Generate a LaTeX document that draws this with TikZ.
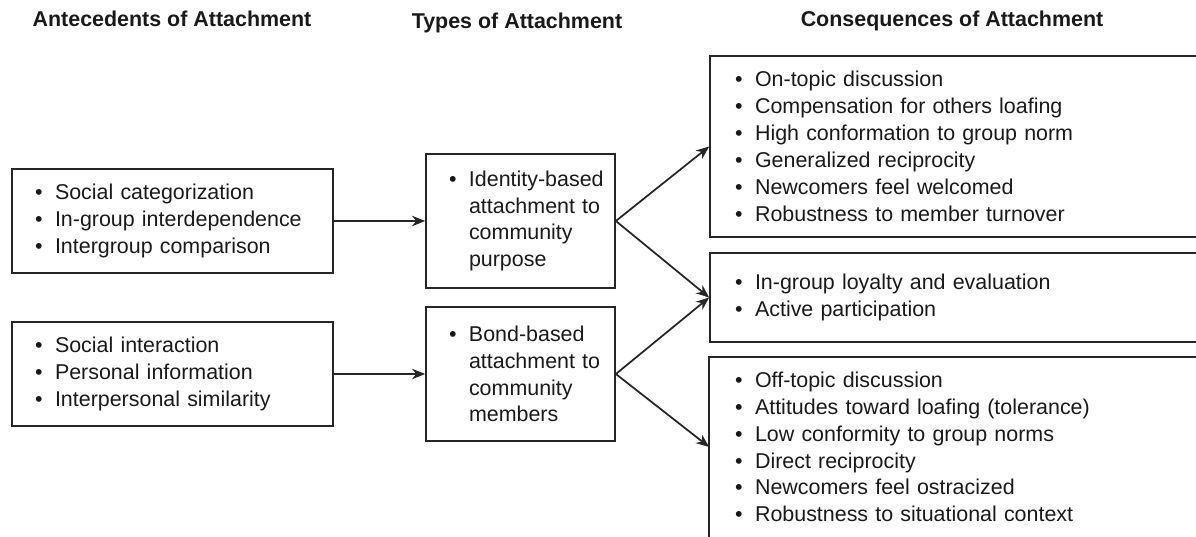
\documentclass[tikz,border=0pt]{standalone}
\usepackage{fontspec}
\setmainfont{Liberation Sans}
\usetikzlibrary{arrows.meta}
\setlength{\parindent}{0pt}
\hfuzz=40pt
\newcommand{\pitem}[1]{\mbox{\makebox[0.4cm][l]{\textbullet}#1}}
\newcommand{\pcont}[1]{\mbox{\hspace*{0.4cm}#1}}

\begin{document}
\begin{tikzpicture}[x=0.02cm,y=-0.02cm,
  box/.style={draw=black!85,line width=1pt,inner xsep=0.46cm,inner ysep=0pt,
    align=left,font=\fontsize{12.2}{15.3}\selectfont,text=black!90},
  head/.style={font=\bfseries\fontsize{12.2}{15}\selectfont,text=black!90,anchor=base},
  arr/.style={draw=black!85,line width=1pt,-{Stealth[length=7.5pt,width=6pt]}}]

\useasboundingbox (0,0) rectangle (1196,537);
\clip (0,0) rectangle (1196,537);

% column titles
\node[head] (hante) at (172,27) {Antecedents of Attachment};
\node[head] (htype) at (517,29) {Types of Attachment};
\node[head] (hcons) at (952,27) {Consequences of Attachment};

% antecedents
\node[box,text width=5.5cm,minimum height=2.08cm] (ante1) at (172.5,221)
  {\pitem{Social categorization}\\ \pitem{In-group interdependence}\\ \pitem{Intergroup comparison}};
\node[box,text width=5.5cm,minimum height=2.08cm] (ante2) at (172.5,374)
  {\pitem{Social interaction}\\ \pitem{Personal information}\\ \pitem{Interpersonal similarity}};

% types
\node[box,text width=2.86cm,minimum height=2.68cm] (type1) at (520.5,221)
  {\pitem{Identity-based}\\ \pcont{attachment to}\\ \pcont{community}\\ \pcont{purpose}};
\node[box,text width=2.86cm,minimum height=2.68cm] (type2) at (520.5,374)
  {\pitem{Bond-based}\\ \pcont{attachment to}\\ \pcont{community}\\ \pcont{members}};

% consequences
\node[box,inner xsep=0.5cm,text width=9.2cm,minimum height=3.62cm] (cons1) at (965,146.5)
  {\pitem{On-topic discussion}\\ \pitem{Compensation for others loafing}\\
   \pitem{High conformation to group norm}\\ \pitem{Generalized reciprocity}\\
   \pitem{Newcomers feel welcomed}\\ \pitem{Robustness to member turnover}};
\node[box,inner xsep=0.5cm,text width=9.2cm,minimum height=1.78cm] (cons2) at (965,297.5)
  {\pitem{In-group loyalty and evaluation}\\ \pitem{Active participation}};
\node[box,draw=none,inner xsep=0.5cm,text width=9.2cm,minimum height=3.56cm] (cons3) at (965,447)
  {\pitem{Off-topic discussion}\\ \pitem{Attitudes toward loafing (tolerance)}\\
   \pitem{Low conformity to group norms}\\ \pitem{Direct reciprocity}\\
   \pitem{Newcomers feel ostracized}\\ \pitem{Robustness to situational context}};
\draw[black!85,line width=1pt] (cons3.north east) -- (cons3.north west) -- (cons3.south west);

% connections
\draw[arr] (ante1.east) -- (type1.west);
\draw[arr] (ante2.east) -- (type2.west);
\draw[arr] (type1.east) -- (cons1.west);
\draw[arr] (type1.east) -- (cons2.west);
\draw[arr] (type2.east) -- (cons2.west);
\draw[arr] (type2.east) -- (cons3.west);

\end{tikzpicture}
\end{document}
